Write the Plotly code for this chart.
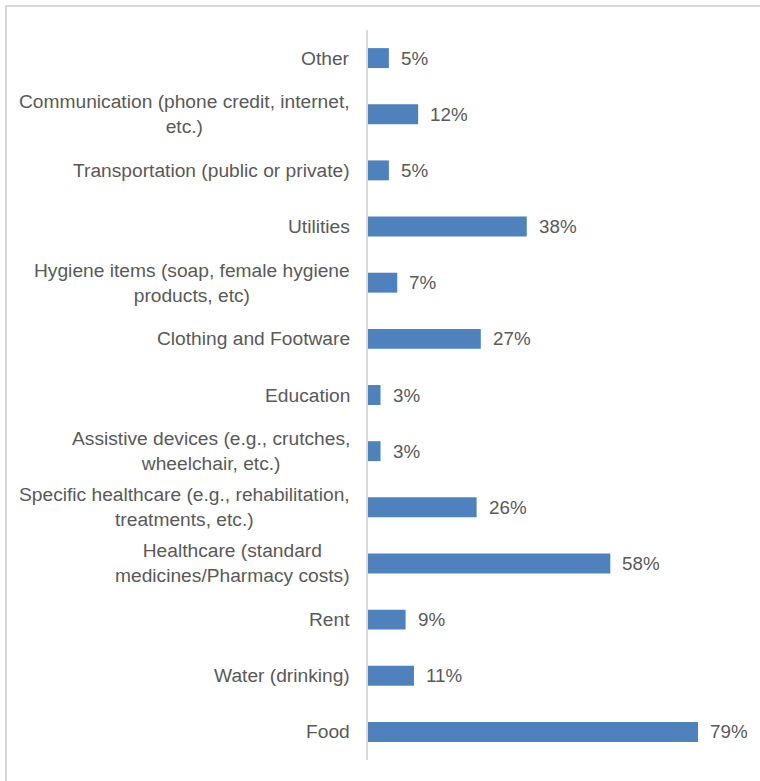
import plotly.graph_objects as go

# Categories listed top to bottom, shares in percent
categories = [
    "Other",
    "Communication (phone credit, internet,<br>etc.)",
    "Transportation (public or private)",
    "Utilities",
    "Hygiene items (soap, female hygiene<br>products, etc)",
    "Clothing and Footware",
    "Education",
    "Assistive devices (e.g., crutches,<br>wheelchair, etc.)",
    "Specific healthcare (e.g., rehabilitation,<br>treatments, etc.)",
    "Healthcare (standard<br>medicines/Pharmacy costs)",
    "Rent",
    "Water (drinking)",
    "Food",
]
values = [5, 12, 5, 38, 7, 27, 3, 3, 26, 58, 9, 11, 79]

W, H = 760, 781
L, R, T, B = 368, 16, 30, 21
TEXT = "#595959"
FONT = "Liberation Sans, Arial, sans-serif"

fig = go.Figure(
    go.Bar(
        x=values,
        y=categories,
        orientation="h",
        marker=dict(color="#4F81BD", line=dict(width=0)),
        hoverinfo="skip",
    )
)

annotations = []
for cat, v in zip(categories, values):
    # value label just past the bar end
    annotations.append(dict(
        x=v, y=cat, xref="x", yref="y", text=f"{v}%", showarrow=False,
        xanchor="left", xshift=10, font=dict(size=18.8, color=TEXT, family=FONT),
    ))
    # category label left of the axis, lines centred within the block
    annotations.append(dict(
        x=0, y=cat, xref="paper", yref="y", text=cat, showarrow=False,
        xanchor="right", align="center", xshift=-16,
        font=dict(size=19.2, color=TEXT, family=FONT),
    ))

pw, ph = W - L - R, H - T - B
def px_x(p):
    return (p - L) / pw
def px_y(p):
    return (H - B - p) / ph

fig.update_layout(
    width=W, height=H,
    margin=dict(l=L, r=R, t=T, b=B, pad=0),
    paper_bgcolor="white", plot_bgcolor="white",
    bargap=0.645,
    showlegend=False,
    annotations=annotations,
    shapes=[dict(
        type="rect", xref="paper", yref="paper",
        x0=px_x(6), x1=px_x(820), y0=px_y(820), y1=px_y(6),
        line=dict(color="#d9d9d9", width=2), fillcolor="rgba(0,0,0,0)", layer="below",
    )],
    xaxis=dict(range=[0, 90], visible=False, fixedrange=True),
    yaxis=dict(
        autorange="reversed", showticklabels=False, ticks="",
        showline=True, linecolor="#d9d9d9", linewidth=2,
        showgrid=False, zeroline=False, fixedrange=True,
    ),
)

fig.write_html("out.html", config={"displayModeBar": False})
